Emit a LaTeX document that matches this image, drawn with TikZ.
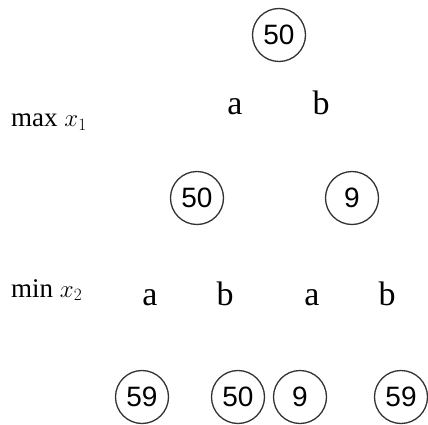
\documentclass[tikz,border=0pt]{standalone}
\usepackage{fontspec}
\setmainfont{Liberation Serif}
\newfontfamily\numfont{Liberation Sans}
\begin{document}
\begin{tikzpicture}[
		x=1pt, y=-1pt,
		declare function={
			yr=35;   % root row
			yc=115;  % first choice row (baseline)
			ym=198;  % min row
			yd=305;  % second choice row (baseline)
			yl=397;  % leaves
		},
		every node/.style={font=\fontsize{34}{40}\selectfont, inner sep=0pt},
		value/.style={circle, draw=black!80, line width=1.3pt, minimum size=53pt,
			font=\numfont\fontsize{28}{32}\selectfont},
		choice/.style={anchor=base},
		player/.style={anchor=base west, font=\fontsize{27}{32}\selectfont}
		]
		
		\useasboundingbox (0,0) rectangle (428,425);
		
		% values
		\node[value] (root) at (279, yr) {50};
		\node[value] (minA) at (197, ym) {50};
		\node[value] (minB) at (352, ym) {9};
		\node[value] (leafAA) at (142, yl) {59};
		\node[value] (leafAB) at (238, yl) {50};
		\node[value] (leafBA) at (300, yl) {9};
		\node[value] (leafBB) at (401, yl) {59};
		
		% moves
		\node[choice] (mvA) at (235, yc) {a};
		\node[choice] (mvB) at (321, yc) {b};
		\node[choice] (mvAA) at (150, yd) {a};
		\node[choice] (mvAB) at (225, yd) {b};
		\node[choice] (mvBA) at (312, yd) {a};
		\node[choice] (mvBB) at (387, yd) {b};
		
		% players
		\node[player] (maxlab) at (11, 127) {max $x_1$};
		\node[player] (minlab) at (11, 297) {min $x_2$};
		
	\end{tikzpicture}
\end{document}
